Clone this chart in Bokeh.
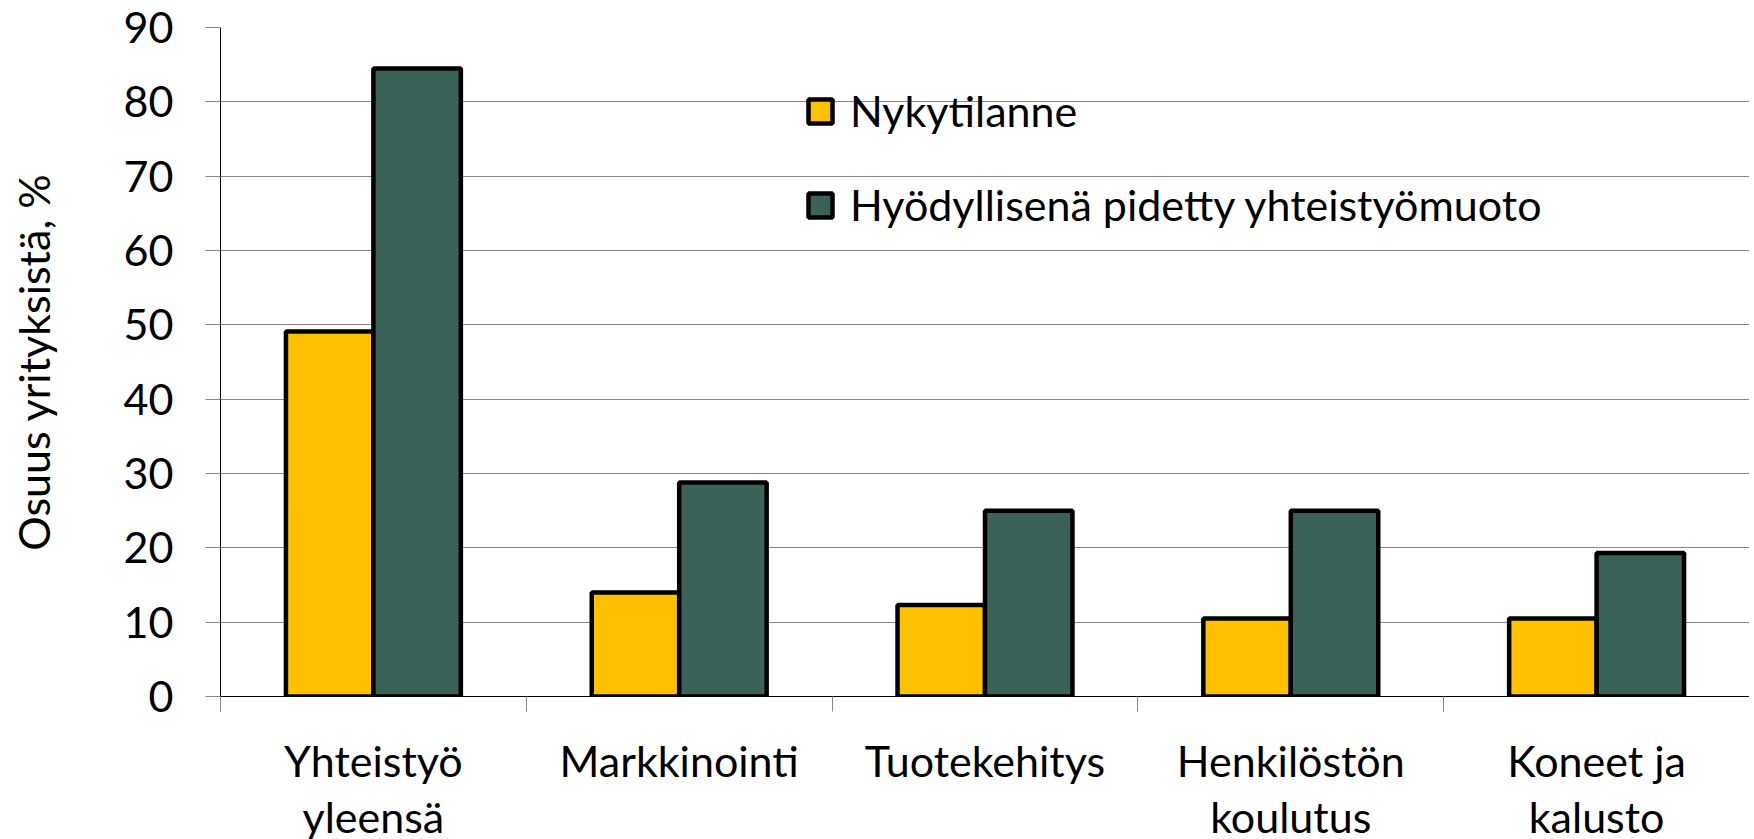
from bokeh.plotting import figure
from bokeh.models import Range1d, FixedTicker, Legend, LegendItem
from bokeh.embed import file_html
from bokeh.resources import INLINE

categories = ["Yhteistyö\nyleensä", "Markkinointi", "Tuotekehitys",
              "Henkilöstön\nkoulutus", "Koneet ja\nkalusto"]
nykytilanne = [49.1, 14.0, 12.3, 10.5, 10.5]
hyodyllinen = [84.5, 28.8, 25.0, 25.0, 19.3]
series_names = ["Nykytilanne", "Hyödyllisenä pidetty yhteistyömuoto"]
series_colors = ["#FFC000", "#3A6258"]
y_ticks = list(range(0, 91, 10))
y_title = "Osuus yrityksistä, %"

FONT = "Lato"
FS = "43px"
GRID = "#868686"

n = len(categories)
centers = [i + 0.5 for i in range(n)]
bounds = list(range(n + 1))
bw = 0.286

p = figure(frame_width=1529, frame_height=669, output_backend="svg",
           toolbar_location=None,
           x_range=Range1d(0, n), y_range=Range1d(0, 90),
           min_border_left=220, min_border_right=0, min_border_top=27,
           min_border_bottom=0)
p.outline_line_color = None
p.background_fill_color = "white"

r1 = p.vbar(x=[c - bw / 2 for c in centers], top=nykytilanne, width=bw,
            fill_color=series_colors[0], line_color="black", line_width=4.5)
r2 = p.vbar(x=[c + bw / 2 for c in centers], top=hyodyllinen, width=bw,
            fill_color=series_colors[1], line_color="black", line_width=4.5)

p.xgrid.visible = False
p.ygrid.grid_line_color = GRID
p.ygrid.grid_line_width = 1

# y axis
ya = p.yaxis[0]
ya.ticker = FixedTicker(ticks=y_ticks)
ya.axis_line_color = "black"
ya.axis_line_width = 1
ya.major_tick_line_color = GRID
ya.major_tick_out = 15
ya.major_tick_in = 0
ya.minor_tick_line_color = None
ya.major_label_standoff = 32
ya.major_label_text_font = FONT
ya.major_label_text_font_size = FS
ya.major_label_text_color = "black"
ya.axis_label = y_title
ya.axis_label_text_font = FONT
ya.axis_label_text_font_size = FS
ya.axis_label_text_font_style = "normal"
ya.axis_label_text_color = "black"
ya.axis_label_standoff = 62

# x axis
xa = p.xaxis[0]
xa.ticker = FixedTicker(ticks=centers, minor_ticks=bounds)
xa.axis_line_color = "black"
xa.axis_line_width = 1
xa.major_tick_out = 0
xa.major_tick_in = 0
xa.major_tick_line_color = None
xa.minor_tick_out = 15
xa.minor_tick_in = 0
xa.minor_tick_line_color = GRID
xa.major_label_overrides = {c: lab for c, lab in zip(centers, categories)}
xa.major_label_standoff = 23
xa.major_label_text_font = FONT
xa.major_label_text_font_size = FS
xa.major_label_text_color = "black"
xa.major_label_text_line_height = 1.1

legend = Legend(items=[LegendItem(label=series_names[0], renderers=[r1]),
                       LegendItem(label=series_names[1], renderers=[r2])],
                location=(585, 466), orientation="vertical", padding=0, margin=0,
                spacing=43, glyph_width=30, glyph_height=30, label_height=30,
                label_standoff=15, label_text_font=FONT, label_text_font_size=FS,
                label_text_color="black", border_line_color=None,
                background_fill_alpha=0)
p.add_layout(legend)

open("out.html", "w").write(file_html(p, INLINE))
